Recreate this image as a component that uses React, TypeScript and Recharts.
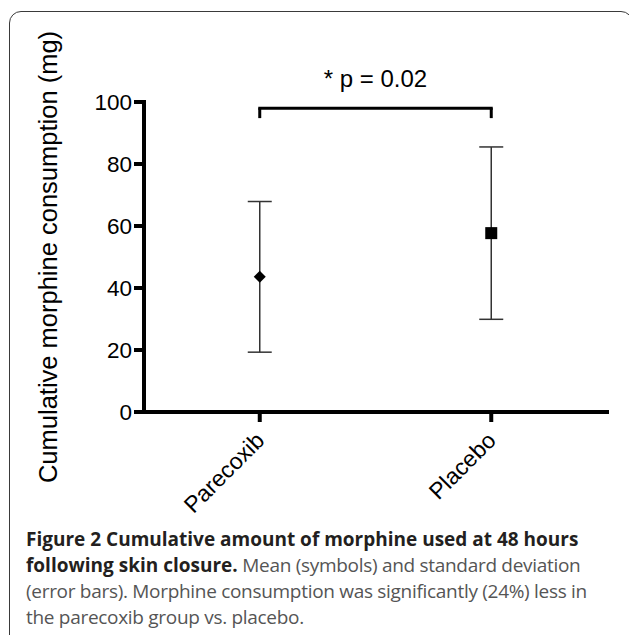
import React from 'react';
import { ComposedChart, Scatter, XAxis, YAxis, ErrorBar, ReferenceLine } from 'recharts';

const groups = ['Parecoxib', 'Placebo'];
const means = [43.6, 57.7];
const sds = [24.3, 27.8];
const yTicks = [0, 20, 40, 60, 80, 100];
const bracketTop = 98;
const bracketLeg = 94.8;
const pLabel = '* p = 0.02';
const yLabel = 'Cumulative morphine consumption (mg)';
const captionBold1 = 'Figure 2 Cumulative amount of morphine used at 48 hours';
const captionBold2 = 'following skin closure.';
const captionRest2 = ' Mean (symbols) and standard deviation';
const captionLine3 = '(error bars). Morphine consumption was significantly (24%) less in';
const captionLine4 = 'the parecoxib group vs. placebo.';

const data = groups.map((g, i) => ({ name: g, mean: means[i], sd: sds[i] }));

const FONT = '"Liberation Sans", Arial, sans-serif';

const MeanShape = (props: any) => {
  const { cx, cy, payload } = props;
  if (cx == null || cy == null) return null;
  if (payload && payload.name === groups[0]) {
    const r = 6;
    return (
      <polygon
        points={`${cx},${cy - r} ${cx + r},${cy} ${cx},${cy + r} ${cx - r},${cy}`}
        fill="#000"
      />
    );
  }
  const s = 12;
  return <rect x={cx - s / 2} y={cy - s / 2} width={s} height={s} fill="#000" />;
};

const XTick = (props: any) => {
  const { x, y, payload } = props;
  return (
    <g transform={`translate(${x + 6},${y + 18})`}>
      <text
        x={0}
        y={0}
        textAnchor="end"
        transform="rotate(-45)"
        fontSize={23}
        fontFamily={FONT}
        fill="#000"
      >
        {payload.value}
      </text>
    </g>
  );
};

const YLabel = (props: any) => {
  const { viewBox } = props;
  const cx = viewBox.x + 57;
  const cy = viewBox.y + viewBox.height / 2;
  return (
    <text
      x={cx}
      y={cy}
      textAnchor="middle"
      transform={`rotate(-90, ${cx}, ${cy})`}
      fontSize={25.5}
      fontFamily={FONT}
      fill="#000"
    >
      {yLabel}
    </text>
  );
};

export default function App() {
  return (
    <div
      style={{
        position: 'absolute',
        left: 0,
        top: 0,
        width: 629,
        height: 635,
        overflow: 'hidden',
        background: '#fff',
      }}
    >
      <div
        style={{
          position: 'absolute',
          left: 9,
          top: 11,
          width: 624,
          height: 700,
          border: '1.5px solid #3a3a3a',
          borderRadius: 12,
          boxSizing: 'border-box',
        }}
      />
      <div style={{ position: 'absolute', left: 0, top: 0 }}>
        <ComposedChart
          width={629}
          height={540}
          data={data}
          margin={{ top: 102, right: 22, left: 0, bottom: 0 }}
        >
          <XAxis
            dataKey="name"
            type="category"
            scale="band"
            interval={0}
            height={128}
            tickSize={10}
            axisLine={{ stroke: '#000', strokeWidth: 4, strokeLinecap: 'square' }}
            tickLine={{ stroke: '#000', strokeWidth: 4 }}
            tick={<XTick />}
          />
          <YAxis
            type="number"
            domain={[0, 100]}
            ticks={yTicks}
            interval={0}
            width={144}
            tickSize={10}
            tickMargin={2}
            axisLine={{ stroke: '#000', strokeWidth: 4, strokeLinecap: 'square' }}
            tickLine={{ stroke: '#000', strokeWidth: 4 }}
            tick={{ fontSize: 22.5, fill: '#000', fontFamily: FONT }}
            label={<YLabel />}
          />
          <ReferenceLine
            segment={[
              { x: groups[0], y: bracketTop },
              { x: groups[1], y: bracketTop },
            ]}
            stroke="#000"
            strokeWidth={3}
            strokeLinecap="square"
            label={{ value: pLabel, position: 'top', offset: 21, fontSize: 24, fill: '#000', fontFamily: FONT }}
          />
          <ReferenceLine
            segment={[
              { x: groups[0], y: bracketLeg },
              { x: groups[0], y: bracketTop },
            ]}
            stroke="#000"
            strokeWidth={3}
          />
          <ReferenceLine
            segment={[
              { x: groups[1], y: bracketLeg },
              { x: groups[1], y: bracketTop },
            ]}
            stroke="#000"
            strokeWidth={3}
          />
          <Scatter dataKey="mean" shape={<MeanShape />} isAnimationActive={false}>
            <ErrorBar dataKey="sd" direction="y" width={12} stroke="#333" strokeWidth={1.5} />
          </Scatter>
        </ComposedChart>
      </div>
      <div
        style={{
          position: 'absolute',
          left: 26,
          top: 526,
          fontFamily: '"Open Sans", "Noto Sans", sans-serif',
          fontSize: 19,
          lineHeight: '26px',
          color: '#555',
          whiteSpace: 'nowrap',
          letterSpacing: '-0.3px',
        }}
      >
        <div>
          <span style={{ fontWeight: 700, color: '#231f20', letterSpacing: 0 }}>{captionBold1}</span>
        </div>
        <div>
          <span style={{ fontWeight: 700, color: '#231f20', letterSpacing: 0 }}>{captionBold2}</span>
          {captionRest2}
        </div>
        <div>{captionLine3}</div>
        <div>{captionLine4}</div>
      </div>
    </div>
  );
}
